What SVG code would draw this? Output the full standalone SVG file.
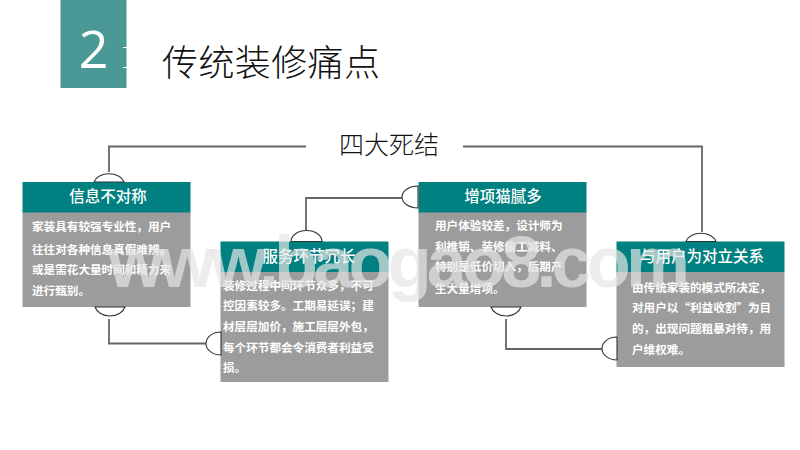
<svg xmlns="http://www.w3.org/2000/svg" width="800" height="450" viewBox="0 0 800 450">
<style>
text{font-family:"Noto Sans CJK SC","Noto Sans",sans-serif}
.head{fill:#008080}
.body{fill:#9c9c9c}
.ht{fill:#fff;font-size:15.500px;font-weight:500;text-anchor:middle}
.bt{fill:#fff;font-size:11.600px;font-weight:700}
.conn{fill:none;stroke:#666;stroke-width:1.800}
.cap{fill:#fff;stroke:#333;stroke-width:1.100}
.wm{font-family:"Liberation Sans",Arial,sans-serif;font-size:72px;font-weight:700;fill:#e6e6e6;fill-opacity:.7}
</style>
<rect width="800" height="450" fill="#fff"/>
<g id="badge">
<rect x="60.500" y="0" width="66" height="88" fill="#4a9997"/>
<text x="93.500" y="68" text-anchor="middle" style="font-family:'Open Sans',sans-serif;font-size:52px;fill:#fff">2</text>
<path d="M123 47.500h5M123 67.500h5" stroke="#fff" stroke-width="1"/>
</g>
<g id="title"><text x="162" y="76" font-size="36" font-weight="300" fill="#111" textLength="218">传统装修痛点</text></g>
<g id="subtitle"><text x="339" y="154" font-size="25" font-weight="300" fill="#111" textLength="100">四大死结</text></g>
<g id="connectors">
<path class="conn" d="M306 146.500H109V172"/>
<path class="conn" d="M463 146.500H702V232"/>
<path class="conn" d="M109 319V343.500H206"/>
<path class="conn" d="M306 232V198H403"/>
<path class="conn" d="M506 319V349H603"/>
</g>
<g id="node1">
<rect class="body" x="22.500" y="212" width="168" height="95"/>
<rect class="head" x="22.500" y="182" width="168" height="30.500"/>
<text class="ht" x="108" y="202">信息不对称</text>
<text class="bt" x="32" y="231">家装具有较强专业性&#xFF0C;用户</text>
<text class="bt" x="32" y="254">往往对各种信息真假难辨&#xFF0C;</text>
<text class="bt" x="32" y="274">或是需花大量时间和精力来</text>
<text class="bt" x="32" y="295">进行甄别。</text>
<path class="cap" d="M94 182A15.500 11 0 0 1 124 182Z"/>
<path class="cap" d="M95 307A15.500 12 0 0 0 125 307Z"/>
</g>
<g id="node2">
<rect class="body" x="220.500" y="272" width="168" height="110"/>
<rect class="head" x="220.500" y="241.500" width="168" height="30.500"/>
<text class="ht" x="309" y="261.500">服务环节冗长</text>
<text class="bt" x="223" y="290">装修过程中间环节众多&#xFF0C;不可</text>
<text class="bt" x="223" y="310">控因素较多。工期易延误&#xFF1B;建</text>
<text class="bt" x="223" y="331">材层层加价&#xFF0C;施工层层外包&#xFF0C;</text>
<text class="bt" x="223" y="352">每个环节都会令消费者利益受</text>
<text class="bt" x="223" y="372">损。</text>
<path class="cap" d="M291 241.500A15.500 11 0 0 1 322 241.500Z"/>
<path class="cap" d="M221 332A15 11.500 0 0 0 221 355Z"/>
</g>
<g id="node3">
<rect class="body" x="418.500" y="212" width="168" height="95"/>
<rect class="head" x="418.500" y="182" width="168" height="30.500"/>
<text class="ht" x="503" y="202">增项猫腻多</text>
<text class="bt" x="435" y="230">用户体验较差&#xFF0C;设计师为</text>
<text class="bt" x="435" y="251">利推销、装修偷工减料、</text>
<text class="bt" x="435" y="271">特别是低价切入&#xFF0C;后期产</text>
<text class="bt" x="435" y="293">生大量增项。</text>
<path class="cap" d="M418 186A16 11 0 0 0 418 208Z"/>
<path class="cap" d="M491 307A15.500 12 0 0 0 521 307Z"/>
</g>
<g id="node4">
<rect class="body" x="616.500" y="272" width="168" height="95"/>
<rect class="head" x="616.500" y="241.500" width="168" height="30.500"/>
<text class="ht" x="702" y="261.500">与用户为对立关系</text>
<text class="bt" x="632" y="292">由传统家装的模式所决定&#xFF0C;</text>
<text class="bt" x="632" y="312">对用户以“利益收割”为目</text>
<text class="bt" x="632" y="333">的&#xFF0C;出现问题粗暴对待&#xFF0C;用</text>
<text class="bt" x="632" y="354">户维权难。</text>
<path class="cap" d="M686 241.500A15.500 11 0 0 1 716 241.500Z"/>
<path class="cap" d="M617 337A15 11.500 0 0 0 617 360Z"/>
</g>
<g id="watermark"><text class="wm" x="108" y="287" textLength="582">www.baogao8.com</text></g>
</svg>
